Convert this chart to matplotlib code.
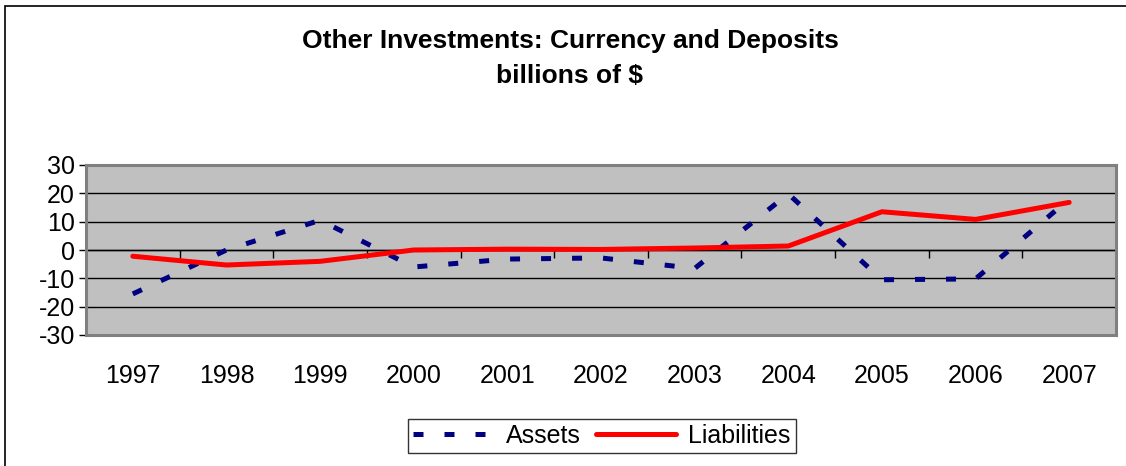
import matplotlib.pyplot as plt
from matplotlib.patches import Rectangle

plt.rcParams['font.family'] = ['Liberation Sans', 'DejaVu Sans']
plt.rcParams['axes.unicode_minus'] = False

years = ["1997", "1998", "1999", "2000", "2001", "2002", "2003", "2004", "2005", "2006", "2007"]
assets = [-15.5, 0.0, 10.5, -6.0, -3.2, -2.8, -6.5, 19.8, -10.5, -10.2, 18.0]
liabilities = [-2.2, -5.3, -4.0, 0.0, 0.3, 0.2, 0.7, 1.4, 13.5, 10.8, 16.8]

W, H = 1126, 466
fig = plt.figure(figsize=(W / 100, H / 100), dpi=100)
ax = fig.add_axes([86 / W, 1 - 335 / H, (1116 - 86) / W, (335 - 165) / H])
ax.set_facecolor('#C0C0C0')

x = list(range(len(years)))
ax.plot(x, assets, color='#000080', lw=3.6, linestyle=(0, (2.0, 4.2)), label='Assets')
ax.plot(x, liabilities, color='#FF0000', lw=3.6, solid_capstyle='round', label='Liabilities')

ax.set_xlim(-0.5, len(years) - 0.5)
ax.set_ylim(-30, 30)
ax.set_yticks(range(-30, 31, 10))
ax.yaxis.grid(True, color='black', lw=1)
ax.set_axisbelow(True)
ax.tick_params(axis='y', labelsize=18, length=5, width=1, colors='black', pad=3)
ax.set_xticks(x)
ax.set_xticklabels(years)
ax.tick_params(axis='x', labelsize=18, length=0, pad=21)

for s in ax.spines.values():
    s.set_color('#808080')
    s.set_linewidth(2.2)

# category axis crossing at zero
sec = ax.secondary_xaxis(0.5)
sec.set_xticks([i - 0.5 for i in range(len(years) + 1)])
sec.set_xticklabels([])
sec.tick_params(length=6, width=1, direction='in', colors='black')
for s in sec.spines.values():
    s.set_color('black')
    s.set_linewidth(1)

fig.text(570 / W, 1 - 41 / H, "Other Investments: Currency and Deposits", ha='center', va='center',
         fontsize=19, fontweight='bold')
fig.text(570 / W, 1 - 76 / H, "billions of $", ha='center', va='center', fontsize=19, fontweight='bold')

leg = fig.legend(loc='center', bbox_to_anchor=(602 / W, 1 - 436 / H), ncol=2, fontsize=18,
                 frameon=True, fancybox=False, edgecolor='black', handlelength=3.2,
                 columnspacing=0.6, handletextpad=0.5, borderpad=0.2, borderaxespad=0)
leg.get_frame().set_linewidth(1)

fig.patches.append(Rectangle((5 / W, -0.1), 1.2, 1 - 6 / H + 0.1, transform=fig.transFigure,
                             fill=False, edgecolor='black', lw=1.2))

fig.savefig('out.png', dpi=100)
